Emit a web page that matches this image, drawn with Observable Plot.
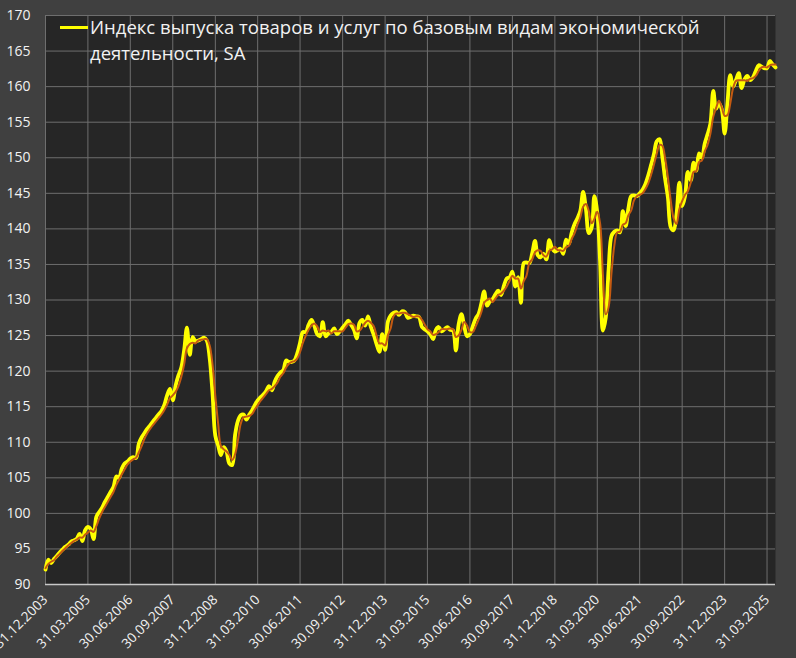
<!DOCTYPE html>
<html>
<head>
<meta charset="utf-8">
<script src="https://cdn.jsdelivr.net/npm/d3@7"></script>
<script src="https://cdn.jsdelivr.net/npm/@observablehq/plot@0.6"></script>
<style>
  html, body { margin: 0; padding: 0; background: #404040; }
  #wrap { position: relative; width: 796px; height: 658px; overflow: hidden; }
  #legend { position: absolute; left: 60px; top: 14px; width: 700px; color: #f2f2f2;
    font-family: "Open Sans", "Noto Sans", sans-serif; font-size: 18.5px; line-height: 26px; }
  #legend .sw { position: absolute; left: 0; top: 12px; width: 28px; height: 3px; background: #ffff00; }
  #legend .tx { margin-left: 30px; }
</style>
</head>
<body>
<div id="wrap">
  <div id="chart"></div>
  <div id="legend"><span class="sw"></span><div class="tx"></div></div>
</div>
<script>
// Monthly index, first month = Dec 2003 (end-of-month dates)
const startYear = 2003, startMonth = 11; // December 2003
const seriesName = "Индекс выпуска товаров и услуг по базовым видам экономической деятельности, SA";

const indexSA = [
  92.1, 93.5, 93.0, 93.6, 94.0, 94.5, 94.9, 95.3, 95.6, 96.0, 96.2, 96.4,
  97.1, 96.1, 97.6, 98.1, 97.8, 96.4, 99.5, 100.2, 100.8, 101.6, 102.3, 103.0,
  103.7, 105.2, 105.0, 106.3, 107.0, 107.3, 107.7, 107.9, 107.8, 109.8, 110.7, 111.3,
  111.9, 112.4, 112.9, 113.4, 113.9, 114.4, 115.2, 116.6, 117.5, 115.9, 118.0, 119.4,
  120.5, 123.0, 126.1, 122.3, 124.8, 124.2, 124.3, 124.5, 124.7, 124.3, 121.8, 117.0,
  110.9, 109.5, 108.2, 109.3, 108.7, 107.0, 106.8, 111.0, 113.0, 113.8, 113.9, 113.2,
  113.9, 114.5, 115.2, 115.9, 116.3, 116.7, 117.2, 117.9, 117.3, 118.5, 119.3, 119.8,
  120.1, 121.5, 121.3, 121.3, 121.5, 122.5, 124.0, 125.5, 125.5, 126.5, 127.2, 126.4,
  125.2, 124.9, 126.9, 124.9, 125.3, 125.5, 126.0, 125.2, 125.6, 126.1, 126.6, 127.1,
  126.5, 125.8, 124.6, 126.8, 127.2, 126.4, 127.7, 126.2, 125.1, 123.8, 122.7, 125.2,
  123.0, 127.0, 127.8, 128.2, 128.3, 127.9, 128.4, 128.3, 127.5, 127.6, 127.8, 127.7,
  127.6, 126.2, 125.9, 125.6, 125.2, 124.5, 125.8, 126.2, 125.6, 125.9, 126.2, 125.8,
  125.7, 122.9, 126.5, 128.0, 126.3, 124.9, 125.2, 126.3, 127.4, 128.0, 129.5, 131.2,
  129.2, 129.8, 130.1, 130.8, 131.3, 130.7, 132.0, 133.0, 133.2, 134.0, 131.9, 133.2,
  129.6, 135.2, 135.3, 135.2, 136.5, 138.3, 136.3, 136.0, 136.5, 135.7, 138.4, 137.3,
  136.8, 137.0, 137.2, 136.5, 138.5, 137.9, 139.5, 140.7, 141.5, 142.5, 145.2, 142.8,
  139.4, 140.2, 144.6, 142.3, 135.5, 125.7, 127.5, 134.3, 139.0, 139.6, 139.8, 139.5,
  142.5, 140.4, 142.8, 144.6, 144.7, 144.6, 145.0, 145.5, 146.3, 147.5, 149.0, 150.5,
  152.3, 152.6, 150.2, 147.0, 144.4, 140.2, 139.8, 142.0, 146.5, 143.2, 144.6, 148.0,
  146.8, 149.3, 148.2, 150.6, 150.0, 152.0, 153.3, 154.8, 159.4, 156.9, 157.6, 156.8,
  153.4, 157.8, 161.6, 160.0, 160.9, 161.9, 159.8, 161.0, 161.5, 160.9, 161.3, 162.2,
  163.0, 162.8, 162.6, 162.6, 163.6, 163.1, 162.7
];

const indexTrend = [
  92.3, 92.9, 93.2, 93.4, 93.9, 94.3, 94.7, 95.1, 95.5, 95.8, 96.1, 96.3,
  96.6, 96.6, 97.0, 97.3, 97.6, 97.4, 98.2, 99.3, 100.2, 100.9, 101.6, 102.3,
  103.0, 104.0, 104.7, 105.5, 106.2, 106.9, 107.3, 107.6, 107.8, 108.6, 109.5, 110.5,
  111.3, 111.9, 112.4, 112.9, 113.4, 113.9, 114.5, 115.3, 116.2, 116.6, 117.1, 117.9,
  119.2, 121.0, 123.2, 123.8, 124.0, 123.9, 124.3, 124.4, 124.5, 124.5, 123.6, 121.0,
  116.5, 112.5, 109.5, 109.0, 108.7, 108.2, 107.5, 108.3, 110.3, 112.6, 113.5, 113.6,
  113.7, 114.0, 114.6, 115.2, 115.8, 116.3, 116.8, 117.3, 117.5, 117.9, 118.4, 119.2,
  119.7, 120.5, 121.0, 121.3, 121.4, 121.8, 122.7, 124.0, 125.0, 125.8, 126.4, 126.7,
  126.3, 125.5, 125.7, 125.6, 125.7, 125.3, 125.6, 125.6, 125.6, 125.6, 126.1, 126.6,
  126.7, 126.5, 125.6, 125.7, 126.2, 126.8, 127.1, 126.8, 126.3, 125.0, 123.9, 123.9,
  123.6, 125.1, 126.0, 127.7, 128.1, 128.1, 128.2, 128.2, 128.0, 127.8, 127.6, 127.7,
  127.7, 127.2, 126.6, 125.9, 125.6, 125.1, 125.2, 125.5, 125.9, 125.9, 125.9, 126.0,
  125.9, 124.8, 125.0, 125.8, 126.9, 126.4, 125.5, 125.5, 126.3, 127.2, 128.3, 129.6,
  130.0, 130.2, 129.7, 130.2, 130.7, 130.9, 131.3, 131.9, 132.7, 133.4, 133.0, 133.0,
  131.6, 132.7, 133.4, 135.2, 135.7, 136.7, 137.0, 136.9, 136.3, 136.1, 136.9, 137.1,
  137.5, 137.0, 137.0, 136.9, 137.4, 137.6, 138.6, 139.4, 140.6, 141.6, 143.1, 143.5,
  142.5, 140.8, 141.4, 142.4, 140.8, 133.5, 128.0, 129.0, 133.8, 137.6, 139.5, 139.6,
  140.6, 140.8, 141.9, 142.6, 144.0, 144.6, 144.8, 145.0, 145.6, 146.4, 147.6, 149.0,
  150.6, 151.8, 151.7, 149.9, 147.2, 143.9, 141.5, 140.7, 142.8, 143.9, 144.8, 145.3,
  146.5, 148.0, 148.1, 149.4, 149.6, 150.9, 151.8, 153.4, 155.8, 157.0, 158.0, 157.1,
  155.9, 156.0, 157.6, 159.8, 160.8, 160.9, 160.9, 160.9, 160.8, 161.1, 161.2, 161.5,
  162.2, 162.7, 162.8, 162.7, 163.0, 163.1, 163.1
];

// Tick labels shown on the category axis (every 15 months)
const tickLabels = ["31.12.2003","31.03.2005","30.06.2006","30.09.2007","31.12.2008","31.03.2010",
  "30.06.2011","30.09.2012","31.12.2013","31.03.2015","30.06.2016","30.09.2017",
  "31.12.2018","31.03.2020","30.06.2021","30.09.2022","31.12.2023","31.03.2025"];
const yTicks = d3.range(90, 171, 5);

const endOfMonth = i => new Date(Date.UTC(startYear, startMonth + i + 1, 0));
const parseLabel = s => { const [d, m, y] = s.split(".").map(Number); return new Date(Date.UTC(y, m - 1, d)); };
const tickDates = tickLabels.map(parseLabel);
const fmt = d3.utcFormat("%d.%m.%Y");

const raw = indexSA.map((v, i) => ({date: endOfMonth(i), value: v}));
const trend = indexTrend.map((v, i) => ({date: endOfMonth(i), value: v}));

const font = '"Open Sans", "Noto Sans", sans-serif';
const chart = Plot.plot({
  width: 796,
  height: 658,
  marginLeft: 45,
  marginRight: 21,
  marginTop: 15,
  marginBottom: 74,
  style: {background: "#404040", fontFamily: font, fontSize: "13px", color: "#f2f2f2"},
  x: {type: "utc", domain: [endOfMonth(0), endOfMonth(indexSA.length - 1)]},
  y: {domain: [90, 170]},
  marks: [
    Plot.frame({fill: "#262626", stroke: null}),
    Plot.ruleY(yTicks.slice(1), {stroke: "#6e6e6e", strokeWidth: 1}),
    Plot.ruleX(tickDates, {stroke: "#6e6e6e", strokeWidth: 1}),
    Plot.ruleY([90], {stroke: "#c8c8c8", strokeWidth: 1.5}),
    Plot.axisY({ticks: yTicks, tickSize: 0, tickPadding: 15, fill: "#f2f2f2", fontSize: 14, label: null}),
    Plot.axisX({ticks: tickDates, tickFormat: fmt, tickSize: 0, tickPadding: 13, tickRotate: -45,
      fill: "#f2f2f2", fontSize: 13.5, label: null}),
    Plot.line(raw, {x: "date", y: "value", stroke: "#ffff00", strokeWidth: 3.8, curve: "catmull-rom"}),
    Plot.line(trend, {x: "date", y: "value", stroke: "#c55a11", strokeWidth: 2, curve: "catmull-rom"})
  ]
});
document.getElementById("chart").appendChild(chart);
document.querySelector("#legend .tx").textContent = seriesName;
</script>
</body>
</html>
